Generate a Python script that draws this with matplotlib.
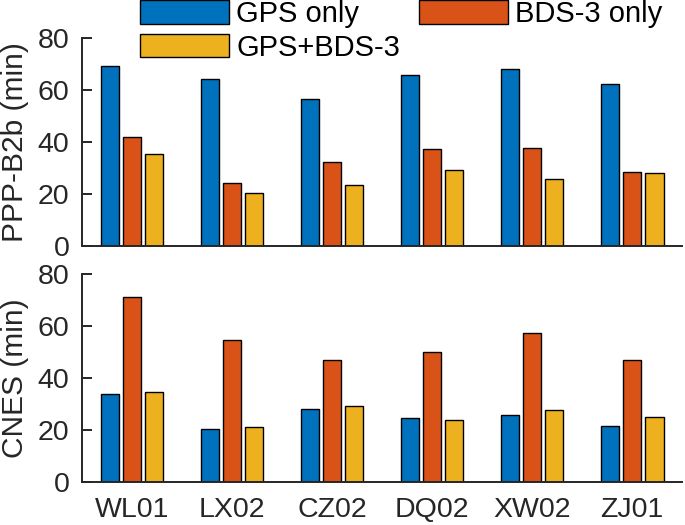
import numpy as np
import matplotlib.pyplot as plt

stations = ['WL01', 'LX02', 'CZ02', 'DQ02', 'XW02', 'ZJ01']
series_names = ['GPS only', 'BDS-3 only', 'GPS+BDS-3']

# convergence time (min), PPP-B2b
b2b_gps = [69.4, 64.2, 56.8, 65.8, 68.1, 62.4]
b2b_bds = [41.8, 24.3, 32.4, 37.2, 37.6, 28.6]
b2b_comb = [35.4, 20.6, 23.6, 29.2, 25.7, 28.0]

# convergence time (min), CNES
cnes_gps = [33.6, 20.2, 28.1, 24.7, 25.5, 21.4]
cnes_bds = [71.2, 54.4, 46.7, 50.1, 57.4, 47.0]
cnes_comb = [34.4, 20.9, 29.2, 23.6, 27.8, 25.0]

colors = ['#0072BD', '#D95319', '#EDB120']
ink = '#262626'

plt.rcParams['font.family'] = ['Liberation Sans', 'DejaVu Sans']

fig = plt.figure(figsize=(6.85, 5.25), dpi=100)
ax1 = fig.add_axes([0.1197, 0.5314, 0.876, 0.3956])
ax2 = fig.add_axes([0.1197, 0.0825, 0.876, 0.3956])

x = np.arange(1, len(stations) + 1)
width = 0.183
offset = 0.223


def draw(ax, data, ylabel):
    bars = []
    for i, (vals, c) in enumerate(zip(data, colors)):
        b = ax.bar(x + (i - 1) * offset, vals, width, color=c,
                   edgecolor='black', linewidth=1.0, zorder=2)
        bars.append(b)
    ax.set_xlim(0.5, 6.5)
    ax.set_ylim(0, 80)
    ax.set_yticks([0, 20, 40, 60, 80])
    ax.set_xticks(x)
    ax.spines['top'].set_visible(False)
    ax.spines['right'].set_visible(False)
    for s in ['left', 'bottom']:
        ax.spines[s].set_color(ink)
        ax.spines[s].set_linewidth(1.4)
    ax.tick_params(axis='y', direction='in', length=7, width=1.4,
                   colors=ink, labelsize=20.5, pad=9)
    ax.tick_params(axis='x', length=0, colors=ink, labelsize=20.5, pad=11)
    ax.set_ylabel(ylabel, fontsize=21.5, color=ink, labelpad=6)
    return bars


bars = draw(ax1, [b2b_gps, b2b_bds, b2b_comb], 'PPP-B2b (min)')
ax1.set_xticklabels([])
draw(ax2, [cnes_gps, cnes_bds, cnes_comb], 'CNES (min)')
ax2.set_xticklabels(stations)

# row-major legend order: GPS only, BDS-3 only / GPS+BDS-3
order = [0, 2, 1]
fig.legend([bars[i] for i in order], [series_names[i] for i in order],
           ncol=2, loc='upper left', bbox_to_anchor=(140 / 685, 1.0),
           frameon=False, fontsize=21, handlelength=3.05, handleheight=0.85,
           handletextpad=0.25, columnspacing=0.65, labelspacing=0.2,
           borderpad=0.0, borderaxespad=0.0)

fig.savefig('out.png', dpi=100)
